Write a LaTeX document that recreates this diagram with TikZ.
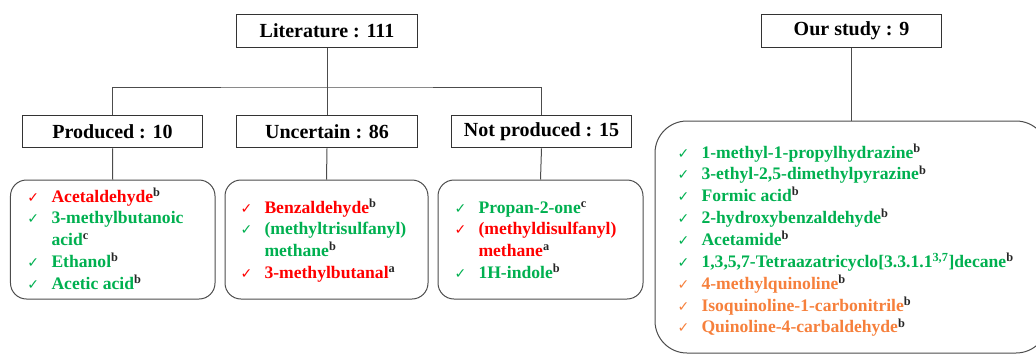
\documentclass[tikz,border=0pt]{standalone}
\usepackage{fontspec}
\setmainfont{Liberation Serif}
\newfontfamily\ckfont{DejaVu Sans}
\definecolor{okgreen}{RGB}{0,176,80}
\definecolor{okred}{RGB}{255,0,0}
\definecolor{okorange}{RGB}{246,128,60}
\newcommand\chk[2]{\textcolor{#1}{\makebox[18pt][l]{\ckfont\fontsize{10.5}{10.5}\selectfont ✓}#2}}
\newcommand\cont[2]{\textcolor{#1}{\hspace*{18pt}#2}}
\newcommand\nt[1]{\textsuperscript{\textcolor{black!85}{#1}}}

\begin{document}
\begin{tikzpicture}[x = 0.75pt, y = -0.75pt, line width = 0.75pt,
    head/.style = {draw = black!80, minimum width = 135.5pt, minimum height = 24.5pt, inner sep = 0pt, font = \fontsize{15}{18}\selectfont\bfseries},
    listbox/.style = {draw = black!70, rounded corners = 12pt, minimum height = 89.25pt, inner sep = 0pt},
    listtext/.style = {anchor = base west, inner sep = 0pt, font = \fontsize{13.2}{16.4}\selectfont\bfseries},
    link/.style = {draw = black!70}]
    \useasboundingbox (0,0) rectangle (1036,354);
    \node[head] (lit) at (327,31) {Literature : 111};
    \node[head] (prod) at (112.5,131.5) {Produced : 10};
    \node[head] (unc) at (327,131.5) {Uncertain : 86};
    \node[head] (notp) at (541.5,131.5) {Not produced : 15};
    \node[head] (our) at (851.5,31) {Our study : 9};
    \node[listbox, minimum width = 153.4pt] (prodlist) at (112.75,239.5) {};
    \node[listbox, minimum width = 152.25pt] (unclist) at (326.5,239.5) {};
    \node[listbox, minimum width = 153.75pt] (notplist) at (540.5,239.5) {};
    \node[listbox, rounded corners = 24pt, minimum width = 294.75pt, minimum height = 174pt] (ourlist) at (851.5,237) {};
    \node[listtext] (prodtxt) at (27,202) {\begin{tabular}[t]{@{}l@{}}
        \chk{okred}{Acetaldehyde\nt{b}}\\
        \chk{okgreen}{3-methylbutanoic}\\
        \cont{okgreen}{acid\nt{c}}\\
        \chk{okgreen}{Ethanol\nt{b}}\\
        \chk{okgreen}{Acetic acid\nt{b}}
    \end{tabular}};
    \node[listtext] (unctxt) at (240,213) {\begin{tabular}[t]{@{}l@{}}
        \chk{okred}{Benzaldehyde\nt{b}}\\
        \chk{okgreen}{(methyltrisulfanyl)}\\
        \cont{okgreen}{methane\nt{b}}\\
        \chk{okred}{3-methylbutanal\nt{a}}
    \end{tabular}};
    \node[listtext] (notptxt) at (454,213) {\begin{tabular}[t]{@{}l@{}}
        \chk{okgreen}{Propan-2-one\nt{c}}\\
        \chk{okred}{(methyldisulfanyl)}\\
        \cont{okred}{methane\nt{a}}\\
        \chk{okgreen}{1H-indole\nt{b}}
    \end{tabular}};
    \node[listtext] (ourtxt) at (677,158) {\begin{tabular}[t]{@{}l@{}}
        \chk{okgreen}{1-methyl-1-propylhydrazine\nt{b}}\\
        \chk{okgreen}{3-ethyl-2,5-dimethylpyrazine\nt{b}}\\
        \chk{okgreen}{Formic acid\nt{b}}\\
        \chk{okgreen}{2-hydroxybenzaldehyde\nt{b}}\\
        \chk{okgreen}{Acetamide\nt{b}}\\
        \chk{okgreen}{1,3,5,7-Tetraazatricyclo[3.3.1.1\textsuperscript{3,7}]decane\nt{b}}\\
        \chk{okorange}{4-methylquinoline\nt{b}}\\
        \chk{okorange}{Isoquinoline-1-carbonitrile\nt{b}}\\
        \chk{okorange}{Quinoline-4-carbaldehyde\nt{b}}
    \end{tabular}};
    \coordinate (split) at (327,87);
    \draw[link] (lit) -- (split);
    \draw[link] (prod.north) |- (split) -| (notp.north);
    \draw[link] (split) -- (unc.north);
    \draw[link] (prod.south) -- (prodlist.north);
    \draw[link] (unc.south) -- (unclist.north);
    \draw[link] (notp.south) -- (notplist.north);
    \draw[link] (our) -- (ourlist);
\end{tikzpicture}
\end{document}
